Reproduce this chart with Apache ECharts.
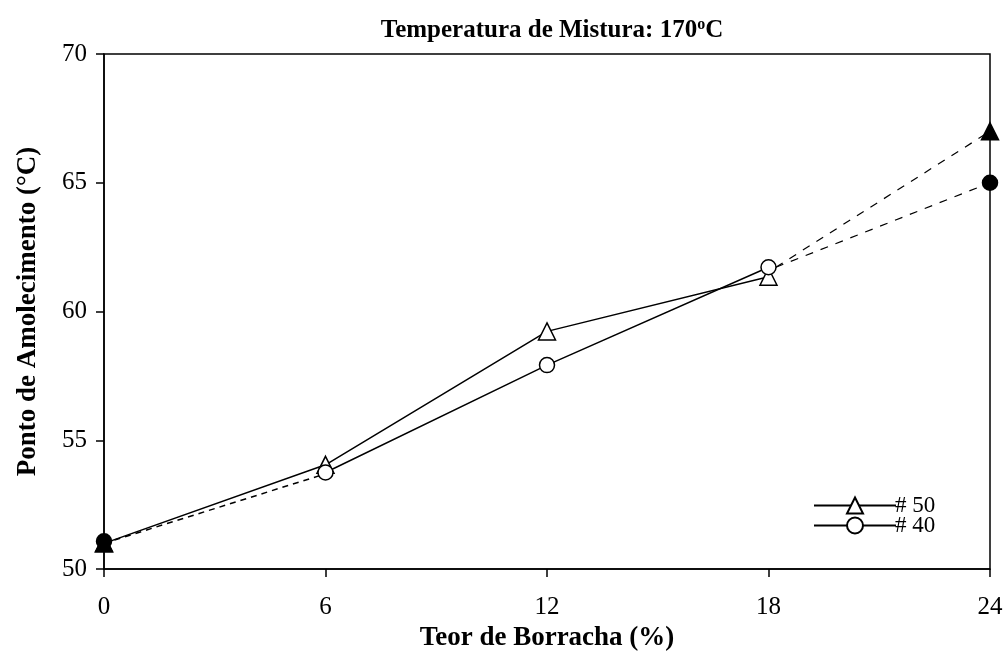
<!DOCTYPE html>
<html><head><meta charset="utf-8">
<script src="https://cdn.jsdelivr.net/npm/echarts@6/dist/echarts.min.js"></script>
<style>html,body{margin:0;padding:0;background:#fff}#c{width:1006px;height:657px}</style>
</head><body><div id="c"></div>
<script>
const xValues = [0, 6, 12, 18, 24];
const s50 = [51.0, 54.05, 59.23, 61.35, 67.0];
const s40 = [51.08, 53.75, 57.92, 61.72, 65.0];
// dashed trend segments (0-6 for #40, 18-24 for both)
const dash40Start = [[0, 51.0], [6, 53.7]];
const dash50End = [[18.2, 61.72], [24, 67.0]];
const dash40End = [[18.2, 61.72], [24, 65.0]];
const titleText = 'Temperatura de Mistura: 170';
const xName = 'Teor de Borracha (%)';
const yName = 'Ponto de Amolecimento (°C)';

const font = 'Liberation Serif';
function styled(vals, shape, size){
  return vals.map((v,i)=>{
    const filled = (i===0 || i===vals.length-1);
    return {value:[xValues[i], v], symbol: shape, symbolSize:size,
      itemStyle:{color: filled ? '#000' : '#fff', borderColor:'#000', borderWidth:1.5, opacity:1}};
  });
}
const chart = echarts.init(document.getElementById('c'), null, {renderer:'canvas'});
const d50 = styled(s50,'triangle',17);
const d40 = styled(s40,'circle',15);
chart.setOption({
  animation:false,
  title:{text:'{a|'+titleText+'}{s|o}{a|C}', left:547, textAlign:'center', top:12,
    textStyle:{rich:{a:{fontFamily:font,fontWeight:'bold',fontSize:25,color:'#000'},
      s:{fontFamily:font,fontWeight:'bold',fontSize:16,color:'#000',verticalAlign:'top',padding:[0,0,12,0]}}}},
  grid:{left:104,right:16,top:54,bottom:85,show:true,borderColor:'#000',borderWidth:1.5,backgroundColor:'transparent'},
  legend:{orient:'vertical',left:808,top:489,itemWidth:82,itemHeight:20,itemGap:-3,
    data:['# 50','# 40'],
    textStyle:{fontFamily:font,fontSize:23,lineHeight:20,color:'#000',padding:[0,0,0,-6]}},
  xAxis:{type:'value',min:0,max:24,interval:6,
    name:xName,nameLocation:'middle',nameGap:50,
    nameTextStyle:{fontFamily:font,fontWeight:'bold',fontSize:27,color:'#000'},
    axisLine:{lineStyle:{color:'#000',width:1.5}},
    axisTick:{show:true,inside:false,length:8,lineStyle:{color:'#000',width:1.5}},
    axisLabel:{fontFamily:font,fontSize:25,color:'#000',margin:26},
    splitLine:{show:false}},
  yAxis:{type:'value',min:50,max:70,interval:5,
    name:yName,nameLocation:'middle',nameGap:62,
    nameTextStyle:{fontFamily:font,fontWeight:'bold',fontSize:27,color:'#000'},
    axisLine:{show:true,lineStyle:{color:'#000',width:1.5}},
    axisTick:{show:true,inside:false,length:8,lineStyle:{color:'#000',width:1.5}},
    axisLabel:{fontFamily:font,fontSize:25,color:'#000',margin:17},
    splitLine:{show:false}},
  series:[
    {type:'line',name:'dash1',data:dash40Start,symbol:'none',silent:true,
      lineStyle:{color:'#000',width:1.5,type:[6,5]},z:1},
    {type:'line',name:'dash2',data:dash50End,symbol:'none',silent:true,
      lineStyle:{color:'#000',width:1.2,type:[8,8]},z:1},
    {type:'line',name:'dash3',data:dash40End,symbol:'none',silent:true,
      lineStyle:{color:'#000',width:1.2,type:[8,8]},z:1},
    {type:'line',name:'# 50',data:d50.slice(0,4),symbol:'triangle',symbolSize:17,
      itemStyle:{color:'#fff',borderColor:'#000',borderWidth:1.5},
      lineStyle:{color:'#000',width:1.5},z:3},
    {type:'line',name:'# 40',data:d40.slice(1,4),symbol:'circle',symbolSize:15,
      itemStyle:{color:'#fff',borderColor:'#000',borderWidth:1.5},
      lineStyle:{color:'#000',width:1.5},z:3},
    {type:'scatter',name:'f50',data:[d50[0],d50[4]],z:4,
      itemStyle:{color:'#000',borderColor:'#000',opacity:1}},
    {type:'scatter',name:'f40',data:[d40[0],d40[4]],z:5,
      itemStyle:{color:'#000',borderColor:'#000',opacity:1}}
  ]
});
</script></body></html>
